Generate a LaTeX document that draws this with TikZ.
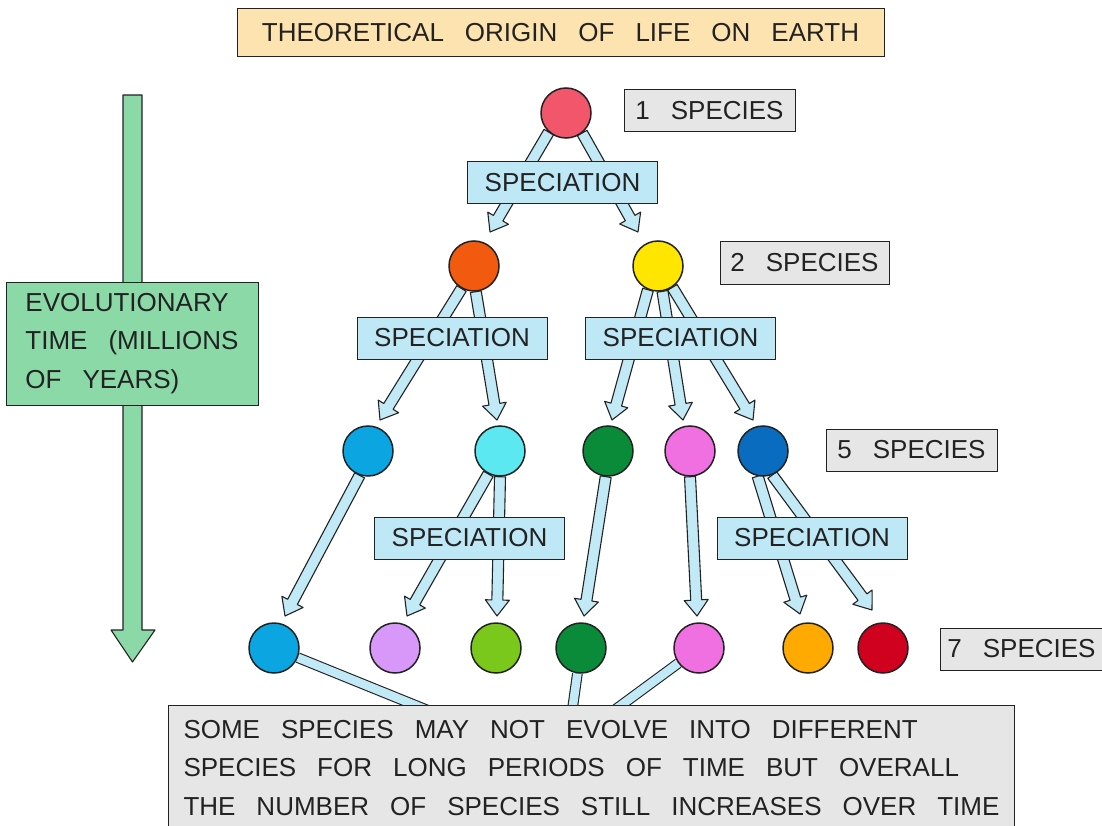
\documentclass[tikz,border=0pt]{standalone}
\usepackage{fontspec}
\setmainfont{Liberation Sans}
\usetikzlibrary{calc,backgrounds}

\definecolor{titlefill}{HTML}{FDE3B0}
\definecolor{countfill}{HTML}{E6E6E6}
\definecolor{specfill}{HTML}{BEE8F6}
\definecolor{arrowfill}{HTML}{C2E9F6}
\definecolor{timefill}{HTML}{8CD9A8}
\definecolor{inkgray}{HTML}{222222}

\newcommand{\boxfont}{\fontsize{26}{38.5}\selectfont\spaceskip 21pt plus 3pt minus 1pt\relax}

% thick hollow arrow from #1 to tip #2
\newcommand{\sparr}[2]{%
  \path (#1) coordinate (sa) (#2) coordinate (sb);
  \path ($(sb)!16pt!(sa)$) coordinate (sm);
  \filldraw[fill=arrowfill, draw=inkgray, line width=1.1pt, line join=round]
    ($(sa)!5.5pt!90:(sb)$) -- ($(sm)!5.5pt!-90:(sa)$) -- ($(sm)!12pt!-90:(sa)$)
    -- (sb) -- ($(sm)!12pt!90:(sa)$) -- ($(sm)!5.5pt!90:(sa)$)
    -- ($(sa)!5.5pt!-90:(sb)$) -- cycle;}

\begin{document}
\begin{tikzpicture}[x=1pt, y=-1pt,
    every node/.style={text=inkgray, font=\boxfont},
    sp/.style={circle, draw=inkgray, line width=1.5pt, minimum size=50pt, inner sep=0pt},
    countbox/.style={draw=inkgray, fill=countfill, line width=1pt, minimum height=42pt, inner sep=0pt},
    specbox/.style={draw=inkgray, fill=specfill, line width=1pt, minimum width=190pt, minimum height=42pt, inner sep=0pt},
    link/.style={double=arrowfill, double distance=8.5pt, line width=1.1pt, draw=inkgray}]
  \useasboundingbox (0,0) rectangle (1102,826);

  \node[draw=inkgray, fill=titlefill, line width=1pt, minimum width=647pt, minimum height=48pt, inner sep=0pt]
    (title) at (560.5,33) {THEORETICAL ORIGIN OF LIFE ON EARTH};

  % time axis
  \filldraw[fill=timefill, draw=inkgray, line width=1.1pt, line join=round]
    (123,95) -- (142,95) -- (142,630) -- (155,630) -- (132.5,662) -- (111,630) -- (123,630) -- cycle;
  \node[draw=inkgray, fill=timefill, line width=1pt, minimum width=252pt, minimum height=123pt,
    align=left, inner sep=0pt] (time) at (132,343.5) {EVOLUTIONARY\\TIME (MILLIONS\\OF YEARS)};

  % species
  \node[sp, fill={rgb,255:red,242;green,86;blue,107}] (r0) at (566,113) {};
  \node[sp, fill={rgb,255:red,242;green,90;blue,16}] (r1a) at (474,266) {};
  \node[sp, fill={rgb,255:red,255;green,230;blue,0}] (r1b) at (658,266) {};
  \node[sp, fill={rgb,255:red,11;green,165;blue,226}] (r2a) at (368,451) {};
  \node[sp, fill={rgb,255:red,92;green,232;blue,240}] (r2b) at (500,451) {};
  \node[sp, fill={rgb,255:red,10;green,139;blue,58}] (r2c) at (608,451) {};
  \node[sp, fill={rgb,255:red,240;green,112;blue,226}] (r2d) at (690,451) {};
  \node[sp, fill={rgb,255:red,10;green,108;blue,191}] (r2e) at (763,451) {};
  \node[sp, fill={rgb,255:red,11;green,165;blue,226}] (r3a) at (274,648) {};
  \node[sp, fill={rgb,255:red,216;green,152;blue,250}] (r3b) at (395,648) {};
  \node[sp, fill={rgb,255:red,122;green,200;blue,28}] (r3c) at (496,648) {};
  \node[sp, fill={rgb,255:red,10;green,139;blue,58}] (r3d) at (581,648) {};
  \node[sp, fill={rgb,255:red,240;green,112;blue,226}] (r3e) at (699,648) {};
  \node[sp, fill={rgb,255:red,255;green,170;blue,0}] (r3f) at (808,648) {};
  \node[sp, fill={rgb,255:red,208;green,0;blue,31}] (r3g) at (883,648) {};

  % counts
  \node[countbox, minimum width=171pt] (c1) at (709.5,111) {1 SPECIES};
  \node[countbox, minimum width=169pt] (c2) at (804.5,263) {2 SPECIES};
  \node[countbox, minimum width=171pt] (c5) at (911.5,450) {5 SPECIES};
  \node[countbox, minimum width=162pt] (c7) at (1021.5,649) {7 SPECIES};

  % speciation labels
  \node[specbox] (s1) at (562.5,183) {SPECIATION};
  \node[specbox] (s2a) at (452,338) {SPECIATION};
  \node[specbox] (s2b) at (680.5,338) {SPECIATION};
  \node[specbox] (s3a) at (469.5,538) {SPECIATION};
  \node[specbox] (s3b) at (812,538) {SPECIATION};

  \node[draw=inkgray, fill=countfill, line width=1pt, anchor=north west, minimum height=125pt,
    inner xsep=15pt, inner ysep=0pt, align=left] (note) at (168,705)
    {SOME SPECIES MAY NOT EVOLVE INTO DIFFERENT\\SPECIES FOR LONG PERIODS OF TIME BUT OVERALL\\THE NUMBER OF SPECIES STILL INCREASES OVER TIME};

  \coordinate (n1) at (432,712);
  \coordinate (n2) at (572,712);
  \coordinate (n3) at (612,712);

  \begin{scope}[on background layer]
    \sparr{r0.-132}{$(r1a)+(16,-34)$}
    \sparr{r0.-51}{$(r1b)+(-20,-34)$}
    \sparr{r1a.-119}{$(r2a)+(12,-31)$}
    \sparr{r1a.-86}{$(r2b)+(-3,-31)$}
    \sparr{r1b.-113}{$(r2c)+(4,-31)$}
    \sparr{r1b.-80}{$(r2d)+(-7,-31)$}
    \sparr{r1b.-56}{$(r2e)+(-10,-31)$}
    \sparr{r2a.-109}{$(r3a)+(11,-32)$}
    \sparr{r2b.-117}{$(r3b)+(12,-32)$}
    \sparr{r2b.-90}{$(r3c)+(1,-32)$}
    \sparr{r2c.-95}{$(r3d)+(3,-32)$}
    \sparr{r2d.-90}{$(r3e)+(-2,-32)$}
    \sparr{r2e.-102}{$(r3f)+(-8,-34)$}
    \sparr{r2e.-69}{$(r3g)+(-11,-38)$}
    \draw[link] (r3a) -- (n1);
    \draw[link] (r3d) -- (n2);
    \draw[link] (r3e) -- (n3);
  \end{scope}
\end{tikzpicture}
\end{document}
